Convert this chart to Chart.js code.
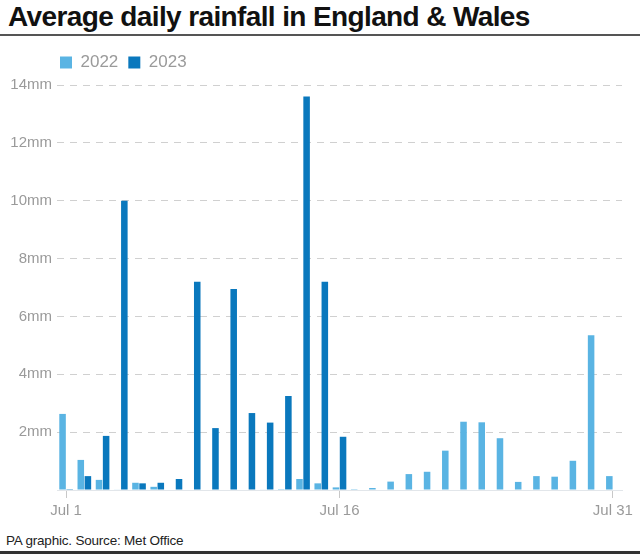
<!DOCTYPE html>
<html>
<head>
<meta charset="utf-8">
<script src="https://cdn.jsdelivr.net/npm/chart.js@4"></script>
<style>
  body { margin: 0; width: 640px; height: 554px; background: #fff; position: relative; overflow: hidden; font-family: "Liberation Sans", Arial, sans-serif; }
  #titulo { position: absolute; left: 8px; top: 1px; font-size: 28px; font-weight: bold; color: #111; letter-spacing: -0.62px; white-space: nowrap; }
  #linha-topo { position: absolute; left: 0; top: 34px; width: 640px; height: 2px; background: #555; }
  #grafico-box { position: absolute; left: 0; top: 40px; width: 640px; height: 486px; }
  #fonte { position: absolute; left: 6px; top: 533px; font-size: 13.5px; color: #222; letter-spacing: -0.2px; }
  #linha-base { position: absolute; left: 0; top: 551px; width: 640px; height: 3px; background: #333; }
</style>
</head>
<body>
<div id="titulo">Average daily rainfall in England &amp; Wales</div>
<div id="linha-topo"></div>
<div id="grafico-box"><canvas id="grafico"></canvas></div>
<div id="fonte">PA graphic. Source: Met Office</div>
<div id="linha-base"></div>
<script>
// Dias de julho
const dias = [];
for (let d = 1; d <= 31; d++) dias.push('Jul ' + d);

// Chuva média diária (mm)
const chuva2022 = [2.63, 1.04, 0.35, 0.02, 0.25, 0.11, 0, 0, 0, 0, 0, 0.02, 0.03, 0.38, 0.23, 0.09,
  0.03, 0.07, 0.29, 0.55, 0.63, 1.36, 2.36, 2.34, 1.79, 0.28, 0.48, 0.46, 1.01, 5.35, 0.48];
const chuva2023 = [0.03, 0.48, 1.87, 10.0, 0.23, 0.25, 0.38, 7.2, 2.14, 6.95, 2.66, 2.33, 3.25, 13.6, 7.2, 1.84,
  null, null, null, null, null, null, null, null, null, null, null, null, null, null, null];

const ticksX = [0, 15, 30];
const ticksY = [0, 2, 4, 6, 8, 10, 12, 14];

const cinza = '#9a9a9a';

// Espaço extra abaixo da legenda e legenda um pouco mais à esquerda
const ajusteLegenda = {
  id: 'ajusteLegenda',
  beforeInit(chart) {
    const fitOriginal = chart.legend.fit;
    chart.legend.fit = function() {
      fitOriginal.bind(chart.legend)();
      this.height += 4;
    };
  },
  afterLayout(chart) {
    chart.legend.left -= 7;
    chart.legend.right -= 7;
  }
};

new Chart(document.getElementById('grafico'), {
  type: 'bar',
  data: {
    labels: dias,
    datasets: [
      { label: '2022', data: chuva2022, backgroundColor: '#5ab4e3', categoryPercentage: 0.78, barPercentage: 0.92 },
      { label: '2023', data: chuva2023, backgroundColor: '#0a78bd', categoryPercentage: 0.78, barPercentage: 0.92 }
    ]
  },
  plugins: [ajusteLegenda],
  options: {
    responsive: true,
    maintainAspectRatio: false,
    animation: false,
    layout: { padding: { left: 0, right: 18, top: 4, bottom: 2 } },
    plugins: {
      tooltip: { enabled: false },
      legend: {
        position: 'top',
        align: 'start',
        fullSize: false,
        labels: {
          boxWidth: 12,
          boxHeight: 12,
          padding: 10,
          color: cinza,
          font: { family: '"Liberation Sans", Arial, sans-serif', size: 17 }
        }
      }
    },
    scales: {
      y: {
        min: 0,
        max: 14,
        afterFit: function(scale) { scale.width = 57; },
        afterBuildTicks: function(scale) { scale.ticks = ticksY.map(v => ({ value: v })); },
        grid: {
          drawTicks: false,
          color: function(ctx) { return ctx.tick && ctx.tick.value === 0 ? 'rgba(0,0,0,0)' : '#d0d0d0'; },
          lineWidth: 1
        },
        border: { display: false, dash: [7, 6] },
        ticks: {
          padding: 5,
          color: cinza,
          font: { family: '"Liberation Sans", Arial, sans-serif', size: 15 },
          callback: function(valor) { return valor === 0 ? '' : valor + 'mm'; }
        }
      },
      x: {
        border: { display: true, color: '#e2e6ea' },
        grid: {
          offset: false,
          drawOnChartArea: false,
          drawTicks: true,
          tickLength: 8,
          color: function(ctx) { return ticksX.includes(ctx.index) ? '#c8c8c8' : 'rgba(0,0,0,0)'; }
        },
        ticks: {
          autoSkip: false,
          maxRotation: 0,
          padding: 4,
          color: cinza,
          font: { family: '"Liberation Sans", Arial, sans-serif', size: 15 },
          callback: function(valor, indice) { return ticksX.includes(indice) ? this.getLabelForValue(valor) : ''; }
        }
      }
    }
  }
});
</script>
</body>
</html>
